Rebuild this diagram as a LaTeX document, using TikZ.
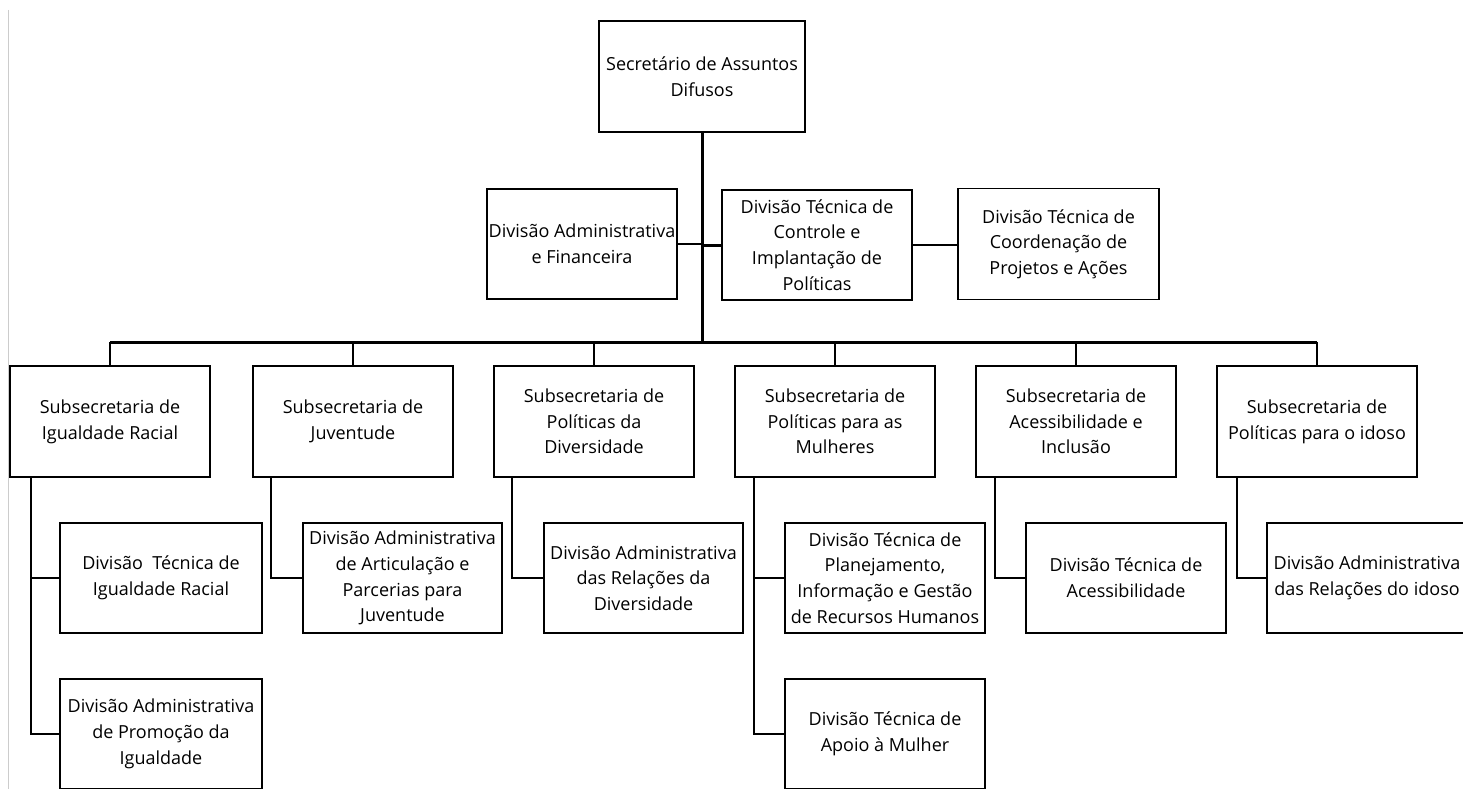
\documentclass[tikz,border=0pt]{standalone}
\usepackage{fontspec}
\setmainfont{Open Sans}
\begin{document}
\begin{tikzpicture}[x=1pt,y=-1pt,
  box/.style={draw, line width=1.6pt, rectangle, inner sep=0pt, align=center,
    minimum width=200pt, minimum height=110pt,
    font=\fontsize{18}{25.7}\selectfont},
  thin/.style={line width=1.6pt},
  thick/.style={line width=3pt}]
\useasboundingbox (0,0) rectangle (1463,789);
\fill[white] (0,0) rectangle (1463,789);
\draw[gray!40, line width=1.5pt] (8.5,10) -- (8.5,789);

% top level
\node[box, minimum width=206pt, minimum height=111pt] (top) at (702,76.5) {Secretário de Assuntos\\Difusos};
\node[box, minimum width=190pt] (da) at (582,244) {Divisão Administrativa\\e Financeira};
\node[box, minimum width=190pt] (dc) at (817,245) {Divisão Técnica de\\Controle e\\Implantação de\\Políticas};
\node[box, minimum width=201pt, minimum height=111pt] (dco) at (1058.5,244) {Divisão Técnica de\\Coordenação de\\Projetos e Ações};

% subsecretarias
\node[box, minimum height=111pt] (s1) at (110,421.5) {Subsecretaria de\\Igualdade Racial};
\node[box, minimum height=111pt] (s2) at (353,421.5) {Subsecretaria de\\Juventude};
\node[box, minimum height=111pt] (s3) at (594,421.5) {Subsecretaria de\\Políticas da\\Diversidade};
\node[box, minimum height=111pt] (s4) at (835,421.5) {Subsecretaria de\\Políticas para as\\Mulheres};
\node[box, minimum height=111pt] (s5) at (1076,421.5) {Subsecretaria de\\Acessibilidade e\\Inclusão};
\node[box, minimum height=111pt] (s6) at (1317,421.5) {Subsecretaria de\\Políticas para o idoso};

% divisions
\node[box, minimum width=202pt] (c1a) at (161,578) {Divisão\ \ Técnica de\\Igualdade Racial};
\node[box, minimum width=202pt] (c1b) at (161,734) {Divisão Administrativa\\de Promoção da\\Igualdade};
\node[box, minimum width=199pt] (c2) at (402.5,578) {Divisão Administrativa\\de Articulação e\\Parcerias para\\Juventude};
\node[box, minimum width=199pt] (c3) at (643.5,578) {Divisão Administrativa\\das Relações da\\Diversidade};
\node[box] (c4a) at (885,578) {Divisão Técnica de\\Planejamento,\\Informação e Gestão\\de Recursos Humanos};
\node[box] (c4b) at (885,734) {Divisão Técnica de\\Apoio à Mulher};
\node[box] (c5) at (1126,578) {Divisão Técnica de\\Acessibilidade};
\node[box] (c6) at (1367,578) {Divisão Administrativa\\das Relações do idoso};

% connectors
\coordinate (bar) at (702,342);
\draw[thick] (top.south) -- (bar);
\draw[thick] (s1.north |- bar) -- (s6.north |- bar);
\draw[thin] (da.east) -- (da.east -| top.south);
\draw[thick] (dc.west) -- (dc.west -| top.south);
\draw[thin] (dc.east) -- (dc.east -| dco.west);
\foreach \s in {s1,s2,s3,s4,s5,s6}{
  \draw[thin] (\s.north) -- (\s.north |- bar);
}
\draw[thin] ([xshift=22pt]s1.south west) |- (c1a.west);
\draw[thin] ([xshift=22pt]s1.south west) |- (c1b.west);
\draw[thin] ([xshift=19pt]s2.south west) |- (c2.west);
\draw[thin] ([xshift=19pt]s3.south west) |- (c3.west);
\draw[thin] ([xshift=20pt]s4.south west) |- (c4a.west);
\draw[thin] ([xshift=20pt]s4.south west) |- (c4b.west);
\draw[thin] ([xshift=20pt]s5.south west) |- (c5.west);
\draw[thin] ([xshift=21pt]s6.south west) |- (c6.west);
\end{tikzpicture}
\end{document}
